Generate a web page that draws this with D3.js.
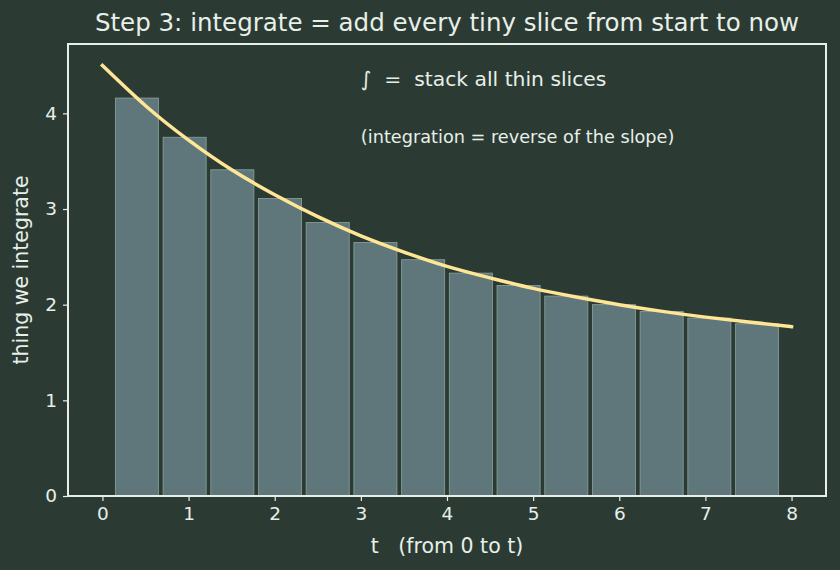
<!DOCTYPE html>
<html>
<head>
<meta charset="utf-8">
<script src="https://cdn.jsdelivr.net/npm/d3@7"></script>
<style>
  html, body { margin: 0; padding: 0; background: #2b3b34; }
  svg { display: block; }
  text { font-family: "DejaVu Sans", sans-serif; fill: #e8efe8; white-space: pre; }
</style>
</head>
<body>
<svg id="chart" width="840" height="570"></svg>
<script>
// ---- data ----
const sliceCenters = [0.4, 0.954, 1.508, 2.062, 2.615, 3.169, 3.723, 4.277, 4.831, 5.385, 5.938, 6.492, 7.046, 7.6];
const sliceHeights = [4.16, 3.75, 3.41, 3.11, 2.86, 2.65, 2.47, 2.33, 2.20, 2.09, 2.00, 1.93, 1.86, 1.80];
const sliceWidth = 0.5;
const curveT = [0, 0.5, 1, 1.5, 2, 2.5, 3, 3.5, 4, 4.5, 5, 5.5, 6, 6.5, 7, 7.5, 8];
const curveY = [4.50, 4.08, 3.72, 3.41, 3.15, 2.92, 2.72, 2.55, 2.40, 2.28, 2.17, 2.08, 2.00, 1.93, 1.87, 1.82, 1.77];
const xTicks = [0, 1, 2, 3, 4, 5, 6, 7, 8];
const yTicks = [0, 1, 2, 3, 4];
const titleText = "Step 3: integrate = add every tiny slice from start to now";
const xLabel = "t   (from 0 to t)";
const yLabel = "thing we integrate";
const note1 = "\u222B  =  stack all thin slices";
const note2 = "(integration = reverse of the slope)";

// ---- layout ----
const L = 68, R = 826, T = 44, B = 496;
const svg = d3.select("#chart");
const fg = "#e8efe8";

const x = d3.scaleLinear().domain([-0.4, 8.4]).range([L, R]);
const y = d3.scaleLinear().domain([0, 4.725]).range([B, T]);

// bars
svg.append("g").selectAll("rect")
  .data(sliceCenters.map((c, i) => ({c, h: sliceHeights[i]})))
  .join("rect")
  .attr("x", d => x(d.c - sliceWidth / 2))
  .attr("width", d => x(d.c + sliceWidth / 2) - x(d.c - sliceWidth / 2))
  .attr("y", d => y(d.h))
  .attr("height", d => y(0) - y(d.h))
  .attr("fill", "#5f777a")
  .attr("stroke", "#8aa39c")
  .attr("stroke-width", 0.8);

// curve
const line = d3.line().x(d => x(d[0])).y(d => y(d[1])).curve(d3.curveNatural);
svg.append("path")
  .datum(curveT.map((t, i) => [t, curveY[i]]))
  .attr("d", line)
  .attr("fill", "none")
  .attr("stroke", "#ffe596")
  .attr("stroke-width", 3.5)
  .attr("stroke-linecap", "square");

// axes
const xAxis = d3.axisBottom(x).tickValues(xTicks).tickFormat(d3.format("d")).tickSize(5).tickPadding(6);
const yAxis = d3.axisLeft(y).tickValues(yTicks).tickFormat(d3.format("d")).tickSize(5).tickPadding(6);
const gx = svg.append("g").attr("transform", `translate(0,${B})`).call(xAxis);
const gy = svg.append("g").attr("transform", `translate(${L},0)`).call(yAxis);
[gx, gy].forEach(g => {
  g.select(".domain").remove();
  g.selectAll(".tick line").attr("stroke", fg).attr("stroke-width", 1.2);
  g.selectAll(".tick text").attr("fill", fg).style("font-size", "18.5px").style("font-family", "DejaVu Sans");
});

// frame
svg.append("rect")
  .attr("x", L).attr("y", T).attr("width", R - L).attr("height", B - T)
  .attr("fill", "none").attr("stroke", fg).attr("stroke-width", 2);

// texts
svg.append("text").attr("x", (L + R) / 2).attr("y", 31).attr("text-anchor", "middle")
  .style("font-size", "24.5px").text(titleText);
svg.append("text").attr("x", (L + R) / 2).attr("y", 553).attr("text-anchor", "middle")
  .style("font-size", "20.5px").text(xLabel);
svg.append("text").attr("transform", `translate(28,${(T + B) / 2}) rotate(-90)`)
  .attr("text-anchor", "middle").style("font-size", "20.5px").text(yLabel);
svg.append("text").attr("x", x(3)).attr("y", 86).style("font-size", "20.3px").text(note1);
svg.append("text").attr("x", x(3)).attr("y", 143).style("font-size", "17.7px").text(note2);
</script>
</body>
</html>
